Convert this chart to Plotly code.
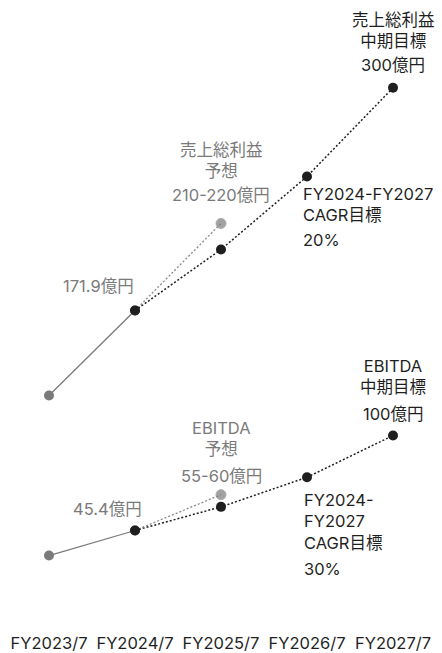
import plotly.graph_objects as go

# ---------------- data ----------------
categories = ["FY2023/7", "FY2024/7", "FY2025/7", "FY2026/7", "FY2027/7"]

gross_actual_x = ["FY2023/7", "FY2024/7"]
gross_actual = [123, 171.9]
gross_forecast_x = ["FY2024/7", "FY2025/7"]
gross_forecast = [171.9, 222]
gross_target_x = ["FY2024/7", "FY2025/7", "FY2026/7", "FY2027/7"]
gross_target = [171.9, 207, 249, 300]

ebitda_actual_x = ["FY2023/7", "FY2024/7"]
ebitda_actual = [31, 45.4]
ebitda_forecast_x = ["FY2024/7", "FY2025/7"]
ebitda_forecast = [45.4, 66]
ebitda_target_x = ["FY2024/7", "FY2025/7", "FY2026/7", "FY2027/7"]
ebitda_target = [45.4, 59, 76, 100]

gross_target_title = ["売上総利益", "中期目標"]
gross_target_value = "300億円"
gross_forecast_title = ["売上総利益", "予想"]
gross_forecast_value = "210-220億円"
gross_cagr_title = ["FY2024-FY2027", "CAGR目標"]
gross_cagr_value = "20%"
gross_actual_label = "171.9億円"

ebitda_target_title = ["EBITDA", "中期目標"]
ebitda_target_value = "100億円"
ebitda_forecast_title = ["EBITDA", "予想"]
ebitda_forecast_value = "55-60億円"
ebitda_cagr_title = ["FY2024-", "FY2027", "CAGR目標"]
ebitda_cagr_value = "30%"
ebitda_actual_label = "45.4億円"

# ---------------- styles ----------------
BLACK = "#1f1f1f"
GRAY = "#7a7a7a"
FONT = "Inter, Noto Sans CJK JP"
FS = 16.5

fig = go.Figure()

for xs, ys in [(gross_actual_x, gross_actual), (ebitda_actual_x, ebitda_actual)]:
    fig.add_trace(go.Scatter(x=xs, y=ys, mode="lines+markers",
                             line=dict(color=GRAY, width=1.3),
                             marker=dict(color=GRAY, size=10),
                             hoverinfo="skip", showlegend=False))

for xs, ys in [(gross_forecast_x, gross_forecast), (ebitda_forecast_x, ebitda_forecast)]:
    fig.add_trace(go.Scatter(x=xs, y=ys, mode="lines+markers",
                             line=dict(color="#8a8a8a", width=1.3, dash="2px,2px"),
                             marker=dict(color=GRAY, size=[0, 10]),
                             hoverinfo="skip", showlegend=False))

for xs, ys in [(gross_target_x, gross_target), (ebitda_target_x, ebitda_target)]:
    fig.add_trace(go.Scatter(x=xs, y=ys, mode="lines+markers",
                             line=dict(color=BLACK, width=1.5, dash="2px,2px"),
                             marker=dict(color=BLACK, size=10),
                             hoverinfo="skip", showlegend=False))

annotations = []


def add_text(x, y, text, dy, color, xanchor="center", xshift=0):
    annotations.append(dict(x=x, y=y, xref="x", yref="y", text=text,
                            showarrow=False, xanchor=xanchor, yanchor="middle",
                            align=xanchor if xanchor != "center" else "center",
                            xshift=xshift, yshift=dy, borderpad=0,
                            font=dict(family=FONT, size=FS, color=color)))


add_text(gross_target_x[-1], gross_target[-1], "<br>".join(gross_target_title), 57.8, BLACK)
add_text(gross_target_x[-1], gross_target[-1], gross_target_value, 23, BLACK)
add_text(gross_forecast_x[-1], gross_forecast[-1], "<br>".join(gross_forecast_title), 63, GRAY)
add_text(gross_forecast_x[-1], gross_forecast[-1], gross_forecast_value, 28.5, GRAY)
add_text(gross_target_x[2], gross_target[2], "<br>".join(gross_cagr_title), -28, BLACK,
         xanchor="left", xshift=-5)
add_text(gross_target_x[2], gross_target[2], gross_cagr_value, -64, BLACK,
         xanchor="left", xshift=-5)
add_text(gross_actual_x[-1], gross_actual[-1], gross_actual_label, 24.5, GRAY, xshift=-37)

add_text(ebitda_target_x[-1], ebitda_target[-1], "<br>".join(ebitda_target_title), 58.8, BLACK)
add_text(ebitda_target_x[-1], ebitda_target[-1], ebitda_target_value, 22, BLACK)
add_text(ebitda_forecast_x[-1], ebitda_forecast[-1], "<br>".join(ebitda_forecast_title), 55.7, GRAY)
add_text(ebitda_forecast_x[-1], ebitda_forecast[-1], ebitda_forecast_value, 19, GRAY)
add_text(ebitda_target_x[2], ebitda_target[2], "<br>".join(ebitda_cagr_title), -44.2, BLACK,
         xanchor="left", xshift=-4)
add_text(ebitda_target_x[2], ebitda_target[2], ebitda_cagr_value, -92, BLACK,
         xanchor="left", xshift=-4)
add_text(ebitda_actual_x[-1], ebitda_actual[-1], ebitda_actual_label, 22, GRAY, xshift=-27.5)

fig.update_layout(
    width=442, height=653,
    margin=dict(l=6, r=6, t=20, b=22, autoexpand=False),
    paper_bgcolor="white", plot_bgcolor="white",
    font=dict(family=FONT, size=FS, color=BLACK),
    annotations=annotations,
    xaxis=dict(type="category", categoryorder="array", categoryarray=categories,
               range=[-0.5, 4.5], showgrid=False, zeroline=False, showline=False,
               ticks="", automargin=False,
               tickfont=dict(family=FONT, size=FS, color=BLACK),
               fixedrange=True),
    yaxis=dict(range=[-12.4, 339.0], visible=False, showgrid=False, zeroline=False,
               automargin=False, fixedrange=True),
)

fig.write_html("out.html", config={"displayModeBar": False})
